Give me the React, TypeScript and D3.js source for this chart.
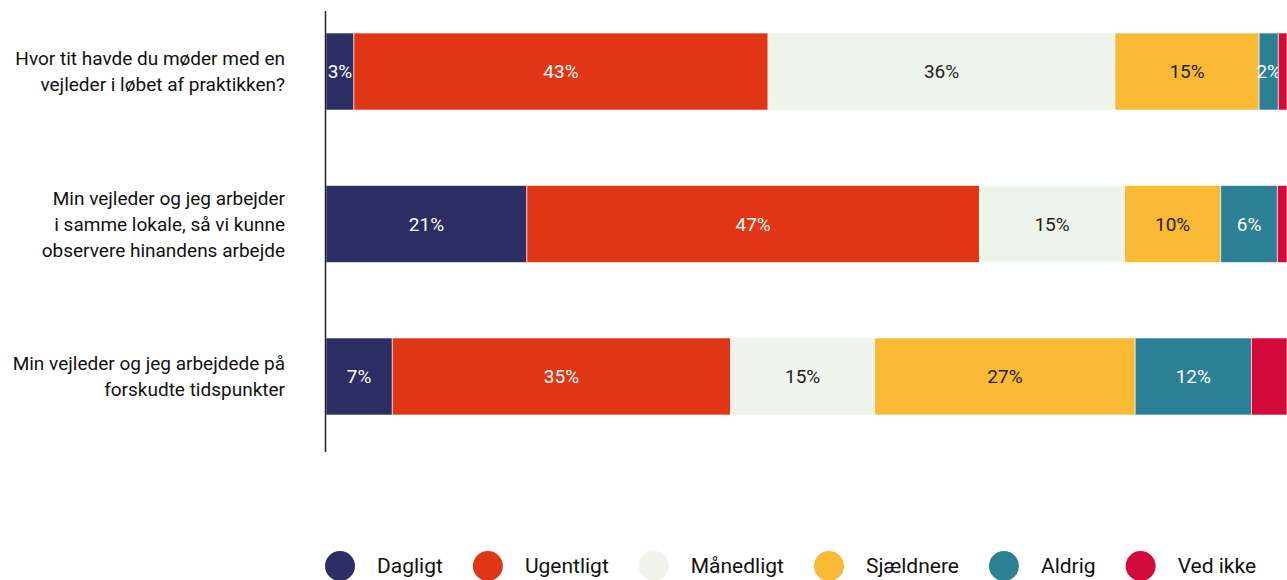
import React, { useEffect, useRef } from "react";
import * as d3 from "d3";

const categories: string[][] = [
  ["Hvor tit havde du møder med en", "vejleder i løbet af praktikken?"],
  ["Min vejleder og jeg arbejder", "i samme lokale, så vi kunne", "observere hinandens arbejde"],
  ["Min vejleder og jeg arbejdede på", "forskudte tidspunkter"],
];
const seriesNames = ["Dagligt", "Ugentligt", "Månedligt", "Sjældnere", "Aldrig", "Ved ikke"];
const seriesColors = ["#2b2d63", "#e03616", "#eef3ec", "#fab935", "#2c8093", "#d10a3a"];
const labelColors = ["#ffffff", "#ffffff", "#222222", "#222222", "#ffffff", "#ffffff"];
const showLabel = [true, true, true, true, true, false];

const dagligt = [2.9, 20.9, 6.9];
const ugentligt = [43.1, 47.1, 35.2];
const maanedligt = [36.1, 15.1, 15.0];
const sjaeldnere = [15.0, 10.0, 27.1];
const aldrig = [2.0, 5.9, 12.1];
const vedIkke = [0.9, 1.0, 3.7];

const W = 1287;
const H = 580;

export default function App() {
  const ref = useRef<SVGSVGElement>(null);
  useEffect(() => {
    const svg = d3.select(ref.current);
    svg.selectAll("*").remove();
    const font = "Roboto, 'Noto Sans', sans-serif";
    const values = [dagligt, ugentligt, maanedligt, sjaeldnere, aldrig, vedIkke];
    const keys = categories.map((_, i) => String(i));
    const x = d3.scaleLinear().domain([0, 100]).range([326, 1287]);
    const y = d3.scaleBand<string>().domain(keys).range([10, 438]).paddingInner(0.495).paddingOuter(0.151);

    const rows = keys.map((k, i) => {
      const r: any = { key: k };
      seriesNames.forEach((s, j) => (r[s] = values[j][i]));
      return r;
    });
    const stacked = d3.stack<any>().keys(seriesNames)(rows);

    const g = svg.append("g");
    stacked.forEach((layer, j) => {
      layer.forEach((d: any) => {
        const x0 = x(d[0]);
        const x1 = x(d[1]);
        const yy = y(d.data.key)!;
        g.append("rect")
          .attr("x", x0)
          .attr("y", yy)
          .attr("width", Math.max(0, x1 - x0))
          .attr("height", y.bandwidth())
          .attr("fill", seriesColors[j])
          .attr("stroke", "#ffffff")
          .attr("stroke-opacity", 0.6)
          .attr("stroke-width", 1);
        if (showLabel[j]) {
          const v = d[1] - d[0];
          g.append("text")
            .attr("x", (x0 + x1) / 2)
            .attr("y", yy + y.bandwidth() / 2)
            .attr("dy", "0.35em")
            .attr("text-anchor", "middle")
            .attr("font-family", font)
            .attr("font-size", 19)
            .attr("fill", labelColors[j])
            .text(`${Math.round(v)}%`);
        }
      });
    });

    // axis line
    svg.append("line")
      .attr("x1", 325.5).attr("x2", 325.5)
      .attr("y1", 11).attr("y2", 452)
      .attr("stroke", "#222").attr("stroke-width", 1.5);

    // category labels
    categories.forEach((lines, i) => {
      const cy = y(String(i))! + y.bandwidth() / 2;
      const lh = 26;
      const t = svg.append("text")
        .attr("text-anchor", "end")
        .attr("font-family", font)
        .attr("font-size", 19)
        .attr("fill", "#111");
      lines.forEach((ln, k) => {
        t.append("tspan")
          .attr("x", 285)
          .attr("y", cy + (k - (lines.length - 1) / 2) * lh)
          .attr("dy", "0.35em")
          .text(ln);
      });
    });

    // legend
    let lx = 325;
    const ly = 566;
    seriesNames.forEach((s, j) => {
      svg.append("circle")
        .attr("cx", lx + 15).attr("cy", ly).attr("r", 15)
        .attr("fill", seriesColors[j]);
      const t = svg.append("text")
        .attr("x", lx + 52)
        .attr("y", ly)
        .attr("dy", "0.35em")
        .attr("font-family", font)
        .attr("font-size", 21)
        .attr("fill", "#111")
        .text(s);
      const w = (t.node() as SVGTextElement).getComputedTextLength();
      lx = lx + 52 + w + 30;
    });
  }, []);
  return (
    <svg ref={ref} width={W} height={H} style={{ position: "absolute", left: 0, top: 0, background: "#fff" }} />
  );
}
